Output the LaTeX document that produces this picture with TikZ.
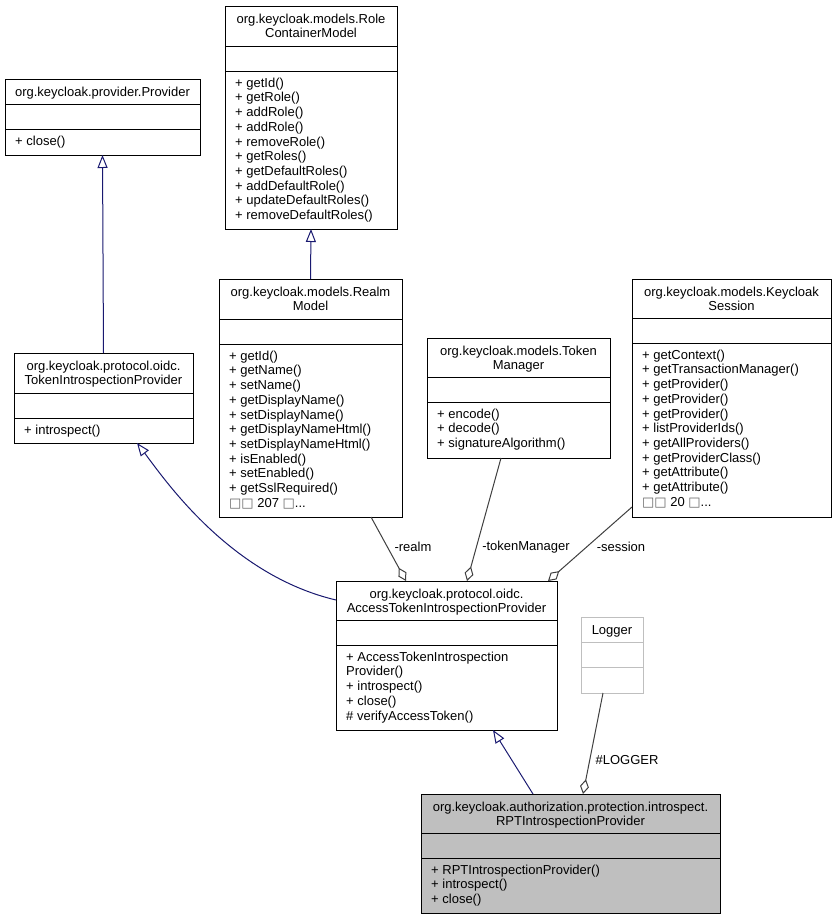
\documentclass[tikz,border=0pt]{standalone}
\usepackage{fontspec}
\setmainfont{Liberation Sans}
\newfontfamily\symfont{DejaVu Sans}
\usetikzlibrary{arrows.meta,calc}
\definecolor{inhcol}{RGB}{25,25,112}
\definecolor{aggcol}{RGB}{64,64,64}
\definecolor{grey75}{RGB}{191,191,191}
\newcommand{\mbx}{{\symfont\textcolor{black!60}{□}}}
\tikzset{
  classbox/.style={draw=black,line width=1bp,inner sep=0pt,outer sep=0pt},
  txt/.style={inner sep=0pt,font={\fontsize{13bp}{14.7bp}\selectfont}},
  inh/.style={draw=inhcol,line width=1bp,-{Triangle[open,length=13bp,width=10bp]}},
  agg/.style={draw=aggcol,line width=1bp,-{Diamond[open,length=15bp,width=9bp]}},
  lbl/.style={txt,anchor=center},
  plain/.style={draw=black},
  ghost/.style={draw=grey75},
  shaded/.style={draw=black,fill=grey75}
}
\newcommand{\umlclass}[9]{%
  \node[classbox,#9,minimum width=#4bp,minimum height=#5bp,anchor=north west] (#1) at (#2,#3) {};
  \draw[#9,line width=1bp] ([yshift=-#6bp]#1.north west) -- ([yshift=-#6bp]#1.north east);
  \draw[#9,line width=1bp] ([yshift=-#6bp-25.5bp]#1.north west) -- ([yshift=-#6bp-25.5bp]#1.north east);
  \node[txt,align=center,anchor=north] (#1-title) at ([yshift=-7bp]#1.north) {\rule{0pt}{10bp}#7};
  \node[txt,align=left,anchor=north west] (#1-ops) at ([xshift=10bp,yshift=-#6bp-31bp]#1.north west) {\rule{0pt}{10bp}#8};
}
\begin{document}
\begin{tikzpicture}[x=1bp,y=-1bp]
\useasboundingbox[fill=white] (0,0) rectangle (837,920);

\umlclass{prov}{5}{79}{195}{76}{25}{org.keycloak.provider.Provider}{+ close()}{plain}
\umlclass{rcm}{225}{6}{172}{223}{40}{org.keycloak.models.Role\\ContainerModel}{+ getId()\\+ getRole()\\+ addRole()\\+ addRole()\\+ removeRole()\\+ getRoles()\\+ getDefaultRoles()\\+ addDefaultRole()\\+ updateDefaultRoles()\\+ removeDefaultRoles()}{plain}
\umlclass{tip}{14}{353}{179}{90}{40}{org.keycloak.protocol.oidc.\\TokenIntrospectionProvider}{+ introspect()}{plain}
\umlclass{realm}{219}{279}{183}{238}{40}{org.keycloak.models.Realm\\Model}{+ getId()\\+ getName()\\+ setName()\\+ getDisplayName()\\+ setDisplayName()\\+ getDisplayNameHtml()\\+ setDisplayNameHtml()\\+ isEnabled()\\+ setEnabled()\\+ getSslRequired()\\\mbx\mbx{} 207 \mbx...}{plain}
\umlclass{tm}{427}{338}{183}{120}{39}{org.keycloak.models.Token\\Manager}{+ encode()\\+ decode()\\+ signatureAlgorithm()}{plain}
\umlclass{ks}{632}{279}{199}{238}{39}{org.keycloak.models.Keycloak\\Session}{+ getContext()\\+ getTransactionManager()\\+ getProvider()\\+ getProvider()\\+ getProvider()\\+ listProviderIds()\\+ getAllProviders()\\+ getProviderClass()\\+ getAttribute()\\+ getAttribute()\\\mbx\mbx{} 20 \mbx...}{plain}
\umlclass{atip}{336}{581}{221}{149}{39}{org.keycloak.protocol.oidc.\\AccessTokenIntrospectionProvider}{+ AccessTokenIntrospection\\Provider()\\+ introspect()\\+ close()\\\# verifyAccessToken()}{plain}
\umlclass{logger}{581}{617}{62}{76}{25}{Logger}{}{ghost}
\umlclass{rpt}{421}{794}{299}{119}{39}{org.keycloak.authorization.protection.introspect.\\RPTIntrospectionProvider}{+ RPTIntrospectionProvider()\\+ introspect()\\+ close()}{shaded}

% inheritance
\draw[inh] (tip.north) -- (prov.south);
\draw[inh] (realm.north) -- (rcm.south);
\draw[inh] ([yshift=-19bp]atip.north west) .. controls (230,575) and (165,480) .. ([xshift=123bp]tip.south west);
\draw[inh] ([xshift=112bp]rpt.north west) -- ([xshift=157bp]atip.south west);

% aggregation
\draw[agg] ([xshift=152bp]realm.south west) -- ([xshift=70bp]atip.north west);
\draw[agg] ([xshift=74bp]tm.south west) -- ([xshift=131bp]atip.north west);
\draw[agg] ([yshift=-228bp]ks.north west) -- ([xshift=212bp]atip.north west);
\draw[agg] ([xshift=22bp]logger.south west) -- ([xshift=162bp]rpt.north west);

\node[lbl] (l-realm) at (413,547) {-realm};
\node[lbl] (l-tm) at (526,547) {-tokenManager};
\node[lbl] (l-ks) at (621,547) {-session};
\node[lbl] (l-log) at (627,760) {\#LOGGER};
\end{tikzpicture}
\end{document}
